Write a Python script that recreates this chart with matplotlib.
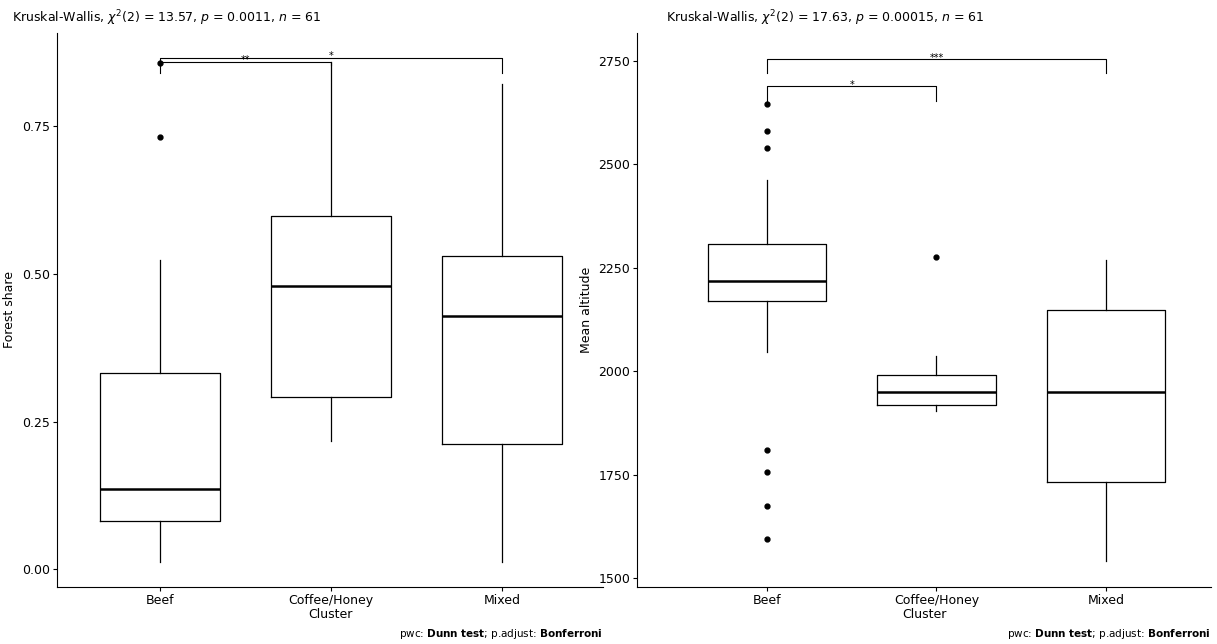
import matplotlib
matplotlib.use("Agg")
import matplotlib.pyplot as plt

categories = ["Beef", "Coffee/Honey", "Mixed"]
# forest share stats: (whislo, q1, med, q3, whishi, fliers)
forest_stats = [
    (0.012, 0.081, 0.136, 0.332, 0.524, [0.732, 0.857]),
    (0.217, 0.291, 0.480, 0.598, 0.859, []),
    (0.012, 0.212, 0.429, 0.531, 0.822, []),
]
alt_stats = [
    (2046, 2170, 2218, 2308, 2463, [2646, 2580, 2541, 1810, 1757, 1675, 1595]),
    (1903, 1918, 1949, 1990, 2036, [2275]),
    (1541, 1732, 1949, 2147, 2268, []),
]
forest_title = r"Kruskal-Wallis, $\chi^2$(2) = 13.57, $p$ = 0.0011, $n$ = 61"
alt_title = r"Kruskal-Wallis, $\chi^2$(2) = 17.63, $p$ = 0.00015, $n$ = 61"
# brackets: (i, j, y, tip_drop, label)
forest_brackets = [(0, 1, 0.859, 0.006, "**"), (0, 2, 0.866, 0.025, "*")]
alt_brackets = [(0, 1, 2690, 37, "*"), (0, 2, 2755, 34, "***")]

fig = plt.figure(figsize=(12.17, 6.44), dpi=100)
axL = fig.add_axes([57/1217, 1-587/644, 546/1217, 554/644])
axR = fig.add_axes([637/1217, 1-587/644, 574/1217, 554/644])

def draw(ax, stats, xlim, ylim, yticks, yfmt, ylabel, title, brackets, lab_off, tx):
    bx = []
    for (lo, q1, med, q3, hi, fl) in stats:
        bx.append(dict(whislo=lo, q1=q1, med=med, q3=q3, whishi=hi, fliers=fl))
    ax.bxp(bx, positions=[1, 2, 3], widths=0.7, showcaps=False,
           boxprops=dict(color="black", lw=0.9),
           whiskerprops=dict(color="black", lw=0.9),
           medianprops=dict(color="black", lw=1.8),
           flierprops=dict(marker="o", markerfacecolor="black", markeredgecolor="black", markersize=3.5))
    ax.set_xlim(*xlim)
    ax.set_ylim(*ylim)
    ax.set_yticks(yticks)
    ax.set_yticklabels([yfmt.format(v) for v in yticks])
    ax.set_xticks([1, 2, 3])
    ax.set_xticklabels(categories)
    ax.tick_params(labelsize=9, colors="black", length=3, pad=2)
    for s in ["top", "right"]:
        ax.spines[s].set_visible(False)
    ax.set_ylabel(ylabel, fontsize=9, labelpad=4)
    ax.set_xlabel("Cluster", fontsize=9, labelpad=1)
    fig.text(tx, 1 - 18/644, title, ha="left", va="center", fontsize=9)
    for i, j, y, d, lab in brackets:
        ax.plot([i+1, i+1, j+1, j+1], [y-d, y, y, y-d], color="black", lw=0.8)
        ax.text((i+j)/2+1, y+lab_off, lab, ha="center", va="bottom", fontsize=7)

draw(axL, forest_stats, (0.4, 3.59), (-0.03, 0.908), [0, 0.25, 0.5, 0.75], "{:.2f}",
     "Forest share", forest_title, forest_brackets, -0.005, 12/1217)
draw(axR, alt_stats, (0.233, 3.62), (1478, 2818), [1500, 1750, 2000, 2250, 2500, 2750], "{:.0f}",
     "Mean altitude", alt_title, alt_brackets, -10, 666/1217)

for x in [603/1217, 1211/1217]:
    fig.text(x, 3/644, r"pwc: $\bf{Dunn\ test}$; p.adjust: $\bf{Bonferroni}$",
             ha="right", va="bottom", fontsize=7.5)
fig.savefig("out.png", dpi=100)
